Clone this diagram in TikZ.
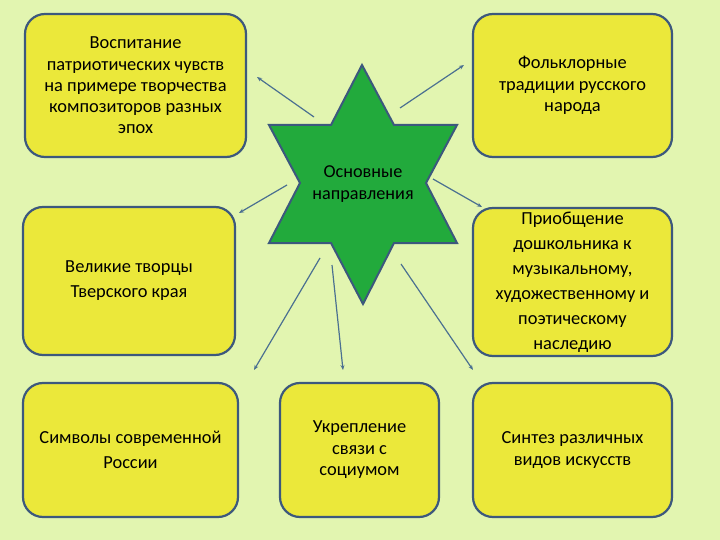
\documentclass[tikz,border=0pt]{standalone}
\usepackage{fontspec}
\setmainfont{Carlito}
\usetikzlibrary{arrows.meta}
\definecolor{bg}{RGB}{226,245,176}
\definecolor{boxfill}{RGB}{235,232,58}
\definecolor{boxdraw}{RGB}{60,88,125}
\definecolor{starfill}{RGB}{34,170,60}
\definecolor{arrowc}{RGB}{75,112,145}
\begin{document}
\begin{tikzpicture}[x=1pt,y=-1pt,
 box/.style={draw=boxdraw, line width=2.2pt, fill=boxfill, rounded corners=20pt, align=center, inner sep=0pt},
 tight/.style={font=\fontsize{18.4}{21.2}\selectfont},
 loose/.style={font=\fontsize{18.4}{25}\selectfont},
 conn/.style={draw=arrowc, line width=1.2pt, -{Stealth[length=5pt,width=4pt]}}]
\fill[bg] (0,0) rectangle (720,540);
\useasboundingbox (0,0) rectangle (720,540);

% star
\filldraw[fill=starfill, draw=boxdraw, line width=2pt, line join=miter]
 (362,65) -- (394,125) -- (457,125) -- (426,183) -- (457,243) -- (394,243) -- (363,304)
 -- (331,243) -- (269,243) -- (300,183) -- (269,125) -- (331,125) -- cycle;
\node[align=center, font=\fontsize{18.2}{22}\selectfont] (star) at (363,184) {Основные\\направления};

% boxes
\node[box, tight, minimum width=221pt, minimum height=143pt] (b1) at (135.5,85.5)
 {Воспитание\\патриотических чувств\\на примере творчества\\композиторов разных\\эпох};
\node[box, tight, minimum width=199pt, minimum height=143pt] (b2) at (572.5,85.5)
 {Фольклорные\\традиции русского\\народа};
\node[box, loose, minimum width=212pt, minimum height=148pt] (b3) at (129,281)
 {Великие творцы\\Тверского края};
\node[box, loose, minimum width=199pt, minimum height=148pt] (b4) at (572.5,282)
 {Приобщение\\дошкольника к\\музыкальному,\\художественному и\\поэтическому\\наследию};
\node[box, loose, minimum width=215pt, minimum height=134pt] (b5) at (130.5,450)
 {Символы современной\\России};
\node[box, font=\fontsize{18.4}{21.5}\selectfont, minimum width=159pt, minimum height=134pt] (b6) at (359.5,450)
 {Укрепление\\связи с\\социумом};
\node[box, font=\fontsize{18.4}{22}\selectfont, minimum width=199pt, minimum height=134pt] (b7) at (572.5,450)
 {Синтез различных\\видов искусств};

% connector ends
\coordinate (s1) at (314,117); \coordinate (e1) at (257,77);
\coordinate (s2) at (400,108); \coordinate (e2) at (464,65);
\coordinate (s3) at (287,185); \coordinate (e3) at (239,213);
\coordinate (s4) at (433,179); \coordinate (e4) at (482,207);
\coordinate (s5) at (320,258); \coordinate (e5) at (254,370);
\coordinate (s6) at (332,265); \coordinate (e6) at (343,370);
\coordinate (s7) at (401,264); \coordinate (e7) at (473,370);
\foreach \i in {1,...,7} {\draw[conn] (s\i) -- (e\i);}
\end{tikzpicture}
\end{document}
